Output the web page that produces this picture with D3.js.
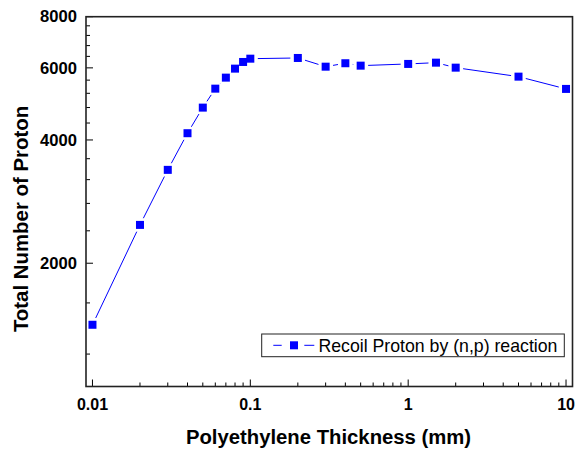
<!DOCTYPE html>
<html>
<head>
<meta charset="utf-8">
<script src="https://cdn.jsdelivr.net/npm/d3@7"></script>
<style>
  body { margin: 0; background: #fff; }
  svg { display: block; font-family: Arial, "Liberation Sans", sans-serif; }
</style>
</head>
<body>
<svg id="chart" width="576" height="450"></svg>
<script>
// data
var thickness = [0.01, 0.02, 0.03, 0.04, 0.05, 0.06, 0.07, 0.08, 0.09, 0.1, 0.2, 0.3, 0.4, 0.5, 1, 1.5, 2, 5, 10];
var protons = [1415, 2481, 3381, 4155, 4798, 5338, 5679, 5974, 6202, 6318, 6343, 6040, 6158, 6075, 6134, 6178, 6007, 5711, 5330];

var xMajor = [0.01, 0.1, 1, 10];
var xLabels = ['0.01', '0.1', '1', '10'];
var yMajor = [2000, 4000, 6000, 8000];
var yMinor = [1200, 1600, 2400, 2800, 3200, 3600, 4400, 4800, 5200, 5600, 6400, 6800, 7200, 7600];

var seriesName = 'Recoil Proton by (n,p) reaction';
var xTitle = 'Polyethylene Thickness (mm)';
var yTitle = 'Total Number of Proton';

var svg = d3.select('#chart');
var plotLeft = 86, plotRight = 572.5, plotTop = 16.7, plotBottom = 386.5;

var x = d3.scaleLog().domain([0.0091, 10.99]).range([plotLeft, plotRight]);
var y = d3.scaleLog().domain([1000, 8000]).range([plotBottom, plotTop]);

var blue = '#0000ff';

// minor x ticks 2..9 per decade
var xMinor = [];
[0.01, 0.1, 1].forEach(function(d) {
    for (var k = 2; k <= 9; k++) xMinor.push(d * k);
});

// ticks (inward)
var ticks = svg.append('g').attr('stroke', '#000').attr('stroke-width', 1);
xMajor.forEach(function(v) {
    ticks.append('line').attr('x1', x(v)).attr('x2', x(v)).attr('y1', plotBottom).attr('y2', plotBottom - 7);
});
xMinor.forEach(function(v) {
    ticks.append('line').attr('x1', x(v)).attr('x2', x(v)).attr('y1', plotBottom).attr('y2', plotBottom - 4);
});
yMajor.forEach(function(v) {
    ticks.append('line').attr('y1', y(v)).attr('y2', y(v)).attr('x1', plotLeft).attr('x2', plotLeft + 7);
});
yMinor.forEach(function(v) {
    ticks.append('line').attr('y1', y(v)).attr('y2', y(v)).attr('x1', plotLeft).attr('x2', plotLeft + 4);
});

// frame
svg.append('rect')
    .attr('x', plotLeft).attr('y', plotTop)
    .attr('width', plotRight - plotLeft).attr('height', plotBottom - plotTop)
    .attr('fill', 'none').attr('stroke', '#222').attr('stroke-width', 1.6);

// tick labels
svg.selectAll('.xlab').data(xMajor).enter().append('text')
    .attr('x', function(d) { return x(d); })
    .attr('y', 409.5)
    .attr('text-anchor', 'middle')
    .attr('font-size', 16).attr('font-weight', 'bold')
    .text(function(d, i) { return xLabels[i]; });

svg.selectAll('.ylab').data(yMajor).enter().append('text')
    .attr('x', 77)
    .attr('y', function(d) { return y(d) + 5.7; })
    .attr('text-anchor', 'end')
    .attr('font-size', 16.6).attr('font-weight', 'bold')
    .text(function(d) { return d; });

// axis titles
svg.append('text')
    .attr('x', 328.5).attr('y', 443.5)
    .attr('text-anchor', 'middle')
    .attr('font-size', 20.3).attr('font-weight', 'bold')
    .text(xTitle);

svg.append('text')
    .attr('transform', 'translate(27.5,219) rotate(-90)')
    .attr('text-anchor', 'middle')
    .attr('font-size', 20.4).attr('font-weight', 'bold')
    .text(yTitle);

// line with gaps round the markers
var gap = 7.5;
var pts = thickness.map(function(t, i) { return [x(t), y(protons[i])]; });
var lineG = svg.append('g').attr('stroke', blue).attr('stroke-width', 1);
for (var i = 0; i < pts.length - 1; i++) {
    var p = pts[i], q = pts[i + 1];
    var dx = q[0] - p[0], dy = q[1] - p[1];
    var len = Math.sqrt(dx * dx + dy * dy);
    if (len <= 2 * gap) continue;
    var ux = dx / len, uy = dy / len;
    lineG.append('line')
        .attr('x1', p[0] + ux * gap).attr('y1', p[1] + uy * gap)
        .attr('x2', q[0] - ux * gap).attr('y2', q[1] - uy * gap);
}

// markers
var ms = 8;
svg.selectAll('.pt').data(pts).enter().append('rect')
    .attr('x', function(d) { return d[0] - ms / 2; })
    .attr('y', function(d) { return d[1] - ms / 2; })
    .attr('width', ms).attr('height', ms)
    .attr('fill', blue);

// legend
var lg = svg.append('g');
lg.append('rect')
    .attr('x', 261.7).attr('y', 334)
    .attr('width', 302.6).attr('height', 22.7)
    .attr('fill', '#fff').attr('stroke', '#222').attr('stroke-width', 1);
lg.append('line').attr('x1', 273.3).attr('x2', 281.7).attr('y1', 345.3).attr('y2', 345.3)
    .attr('stroke', blue).attr('stroke-width', 1);
lg.append('line').attr('x1', 304.3).attr('x2', 314.3).attr('y1', 345.3).attr('y2', 345.3)
    .attr('stroke', blue).attr('stroke-width', 1);
lg.append('rect').attr('x', 290).attr('y', 341.3).attr('width', ms).attr('height', ms).attr('fill', blue);
lg.append('text')
    .attr('x', 318.5).attr('y', 352.2)
    .attr('font-size', 17.7)
    .text(seriesName);
</script>
</body>
</html>
